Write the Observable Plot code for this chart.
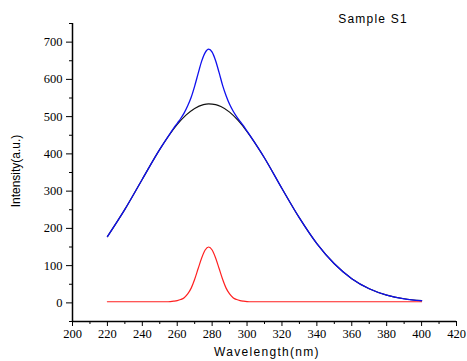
<!DOCTYPE html>
<html><head><meta charset="utf-8">
<script src="https://cdn.jsdelivr.net/npm/d3@7"></script>
<script src="https://cdn.jsdelivr.net/npm/@observablehq/plot@0.6"></script>
<style>
body{margin:0;background:#fff;}
#wrap{width:467px;height:361px;}
#wrap svg g[aria-label$="tick label"] text{font-family:"Liberation Serif","Times New Roman",serif !important;font-size:12.5px !important;}
</style></head><body><div id="wrap"></div>
<script>
// Black: broad background band
const blackX = [220,230,240,250,260,265,270,275,278,282,285,290,295,300,310,320,330,340,350,360,370,380,390,400];
const blackY = [178,251,332,412,479,504,522,532,534,532,527,512,489,460,389,307,228,159,105,65,38,21,11,6];
// Red: narrow peak
const redX = [220,240,254,256,258,260,262,264,266,268,270,272,274,276,278,280,282,284,286,288,290,292,294,296,298,300,302,340,400];
const redY = [3,3,3,3.5,4.5,6,9,14,24,39.6,63.4,92.2,120.7,142,150,142,120.7,92.2,63.4,39.6,24,14,9,6,4.5,3.5,3,3,3];
// Blue: total
const blueX = [220,230,240,250,256,258,260,262,264,266,268,270,272,274,276,278,280,282,284,286,288,290,292,294,296,298,300,310,320,330,340,350,360,370,380,390,400];
const blueY = [178,251,332,412,455,469,482,495,510,529,552,582,616,649,672,681,673,650,618,584,556,533,515,500,487,475,461,389,307,228,159,105,65,38,21,11,6];

const xTicks = [200,220,240,260,280,300,320,340,360,380,400,420];
const xMinor = [210,230,250,270,290,310,330,350,370,390,410];
const yTicks = [0,100,200,300,400,500,600,700];
const yMinor = [-50,50,150,250,350,450,550,650,750];

const toRows = (xs, ys) => xs.map((x, i) => ({x, y: ys[i]}));

const chart = Plot.plot({
  width: 467, height: 361,
  marginLeft: 72, marginRight: 11, marginTop: 23, marginBottom: 40,
  x: {domain: [200, 420]},
  y: {domain: [-50, 750]},
  style: {background: "white", color: "#000", overflow: "visible", fontFamily: "'Liberation Serif', 'Times New Roman', serif", fontSize: "12.5px"},
  marks: [
    Plot.axisY({ticks: yTicks, tickSize: 6, tickPadding: 4, label: null}),
    Plot.axisY({ticks: yMinor, tickSize: 3, tickFormat: () => "", label: null}),
    Plot.axisX({ticks: xTicks, tickSize: 5, tickPadding: 3, label: null}),
    Plot.axisX({ticks: xMinor, tickSize: 3, tickFormat: () => "", label: null}),
    Plot.ruleX([200], {stroke: "#000", strokeWidth: 1.5}),
    Plot.ruleY([-50], {stroke: "#000", strokeWidth: 1.5}),
    Plot.line(toRows(redX, redY), {x: "x", y: "y", stroke: "#ff2020", strokeWidth: 1.2, curve: "monotone-x"}),
    Plot.line(toRows(blackX, blackY), {x: "x", y: "y", stroke: "#111", strokeWidth: 1.2, curve: "monotone-x"}),
    Plot.line(toRows(blueX, blueY), {x: "x", y: "y", stroke: "#1010ee", strokeWidth: 1.3, curve: "monotone-x"})
  ]
});
document.getElementById("wrap").appendChild(chart);

chart.querySelectorAll("text").forEach(t => {
  t.setAttribute("font-family", "Liberation Serif");
  t.style.fontFamily = "'Liberation Serif', 'Times New Roman', serif";
});
const svg = d3.select(chart);
svg.append("text")
  .attr("x", 267).attr("y", 356)
  .attr("text-anchor", "middle")
  .style("font-family", "'Liberation Sans', Arial, sans-serif")
  .style("font-size", "12px").style("letter-spacing", "1.3px")
  .text("Wavelength(nm)");
svg.append("text")
  .attr("transform", "translate(20,171) rotate(-90)")
  .attr("text-anchor", "middle")
  .style("font-family", "'Liberation Sans', Arial, sans-serif")
  .style("font-size", "12px")
  .text("Intensity(a.u.)");
svg.append("text")
  .attr("x", 373).attr("y", 23)
  .style("font-family", "'Liberation Sans', Arial, sans-serif")
  .style("font-size", "12px").style("letter-spacing", "1.2px")
  .text("Sample S1");
</script>
</body></html>
